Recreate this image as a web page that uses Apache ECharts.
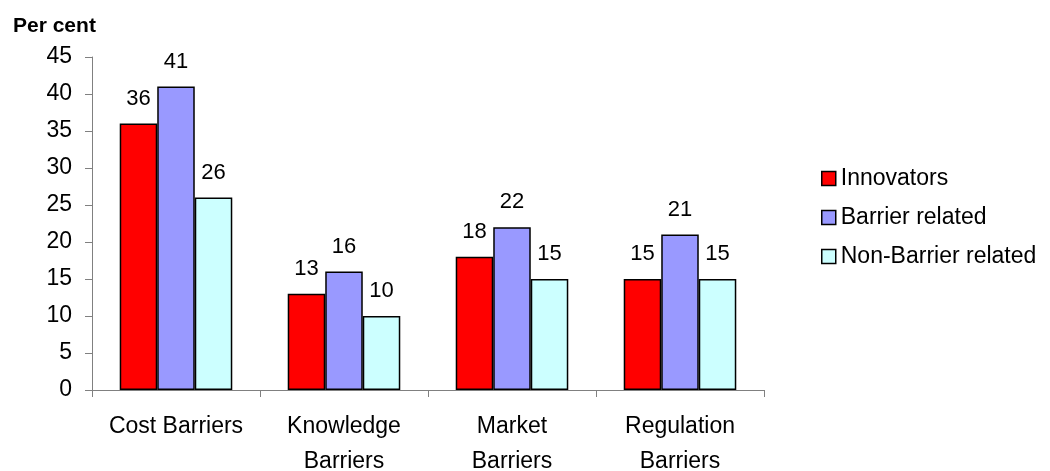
<!DOCTYPE html>
<html><head><meta charset="utf-8">
<script src="https://cdn.jsdelivr.net/npm/echarts@6/dist/echarts.min.js"></script>
<style>html,body{margin:0;padding:0;background:#fff}#c{width:1050px;height:471px}</style>
</head><body><div id="c"></div>
<script>
const categories = ['Cost Barriers', 'Knowledge\nBarriers', 'Market\nBarriers', 'Regulation\nBarriers'];
const innovators = [36, 13, 18, 15];
const barrierRelated = [41, 16, 22, 21];
const nonBarrierRelated = [26, 10, 15, 15];
const seriesNames = ['Innovators', 'Barrier related', 'Non-Barrier related'];
const colors = ['#FF0000', '#9999FF', '#CCFFFF'];
const font = 'Liberation Sans, Arial, sans-serif';
const chart = echarts.init(document.getElementById('c'));
const mk = (name, data, color) => ({
  name, type: 'bar', data, barGap: '0%', barCategoryGap: '33%',
  itemStyle: { color, borderColor: '#000', borderWidth: 1.5 },
  label: { show: true, position: 'top', distance: 14, color: '#000', fontSize: 22, fontFamily: font },
  emphasis: { disabled: true }
});
chart.setOption({
  animation: false,
  textStyle: { fontFamily: font },
  title: { text: 'Per cent', left: 8, top: 11, textStyle: { fontSize: 21, fontWeight: 'bold', color: '#000', fontFamily: font } },
  grid: { left: 92, right: 286, top: 57, bottom: 81, containLabel: false, outerBoundsMode: 'none' },
  legend: {
    orient: 'vertical', left: 816, top: 162, itemWidth: 14, itemHeight: 14, itemGap: 16,
    icon: 'rect', textStyle: { fontSize: 23, color: '#000', fontFamily: font },
    itemStyle: { borderColor: '#000', borderWidth: 1.5 }
  },
  xAxis: {
    type: 'category', data: categories,
    axisLine: { lineStyle: { color: '#808080', width: 1 } },
    axisTick: { show: true, length: 7, lineStyle: { color: '#808080' } },
    axisLabel: { interval: 0, color: '#000', fontSize: 23, margin: 19, lineHeight: 35, fontFamily: font }
  },
  yAxis: {
    type: 'value', min: 0, max: 45, interval: 5,
    splitLine: { show: false },
    axisLine: { show: true, lineStyle: { color: '#808080', width: 1 } },
    axisTick: { show: true, length: 7, lineStyle: { color: '#808080' } },
    axisLabel: { color: '#000', fontSize: 23, margin: 20, fontFamily: font }
  },
  series: [mk(seriesNames[0], innovators, colors[0]), mk(seriesNames[1], barrierRelated, colors[1]), mk(seriesNames[2], nonBarrierRelated, colors[2])]
});
</script></body></html>
